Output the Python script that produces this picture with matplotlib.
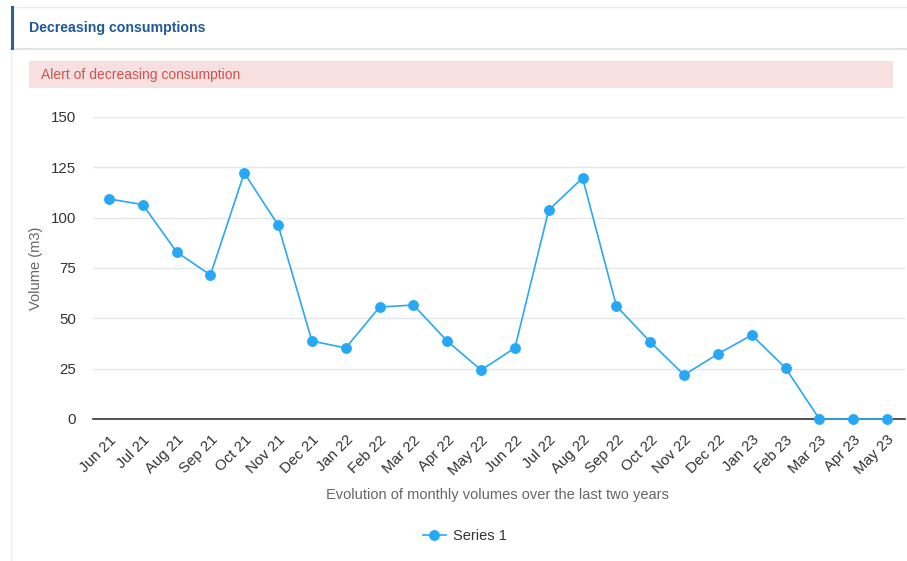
import matplotlib.pyplot as plt
from matplotlib.patches import Rectangle
from matplotlib.lines import Line2D

plt.rcParams['font.family'] = ['Liberation Sans', 'DejaVu Sans']

# Monthly volumes (m3)
months = ['Jun 21', 'Jul 21', 'Aug 21', 'Sep 21', 'Oct 21', 'Nov 21', 'Dec 21', 'Jan 22',
          'Feb 22', 'Mar 22', 'Apr 22', 'May 22', 'Jun 22', 'Jul 22', 'Aug 22', 'Sep 22',
          'Oct 22', 'Nov 22', 'Dec 22', 'Jan 23', 'Feb 23', 'Mar 23', 'Apr 23', 'May 23']
volumes = [109.3, 106.5, 83, 71.5, 122.2, 96.4, 38.7, 35.3,
           55.6, 56.6, 38.7, 24.3, 35.3, 103.8, 119.7, 56.1,
           38.3, 21.9, 32.3, 41.7, 25.3, 0, 0, 0]
y_ticks = [0, 25, 50, 75, 100, 125, 150]

W, H = 907, 561
fig = plt.figure(figsize=(W / 100, H / 100), dpi=100)

# panel frame / header decorations (figure pixel coords -> fraction)
def px(x, y):
    return x / W, 1 - y / H

fig.add_artist(Line2D([11 / W, 1], [1 - 7 / H] * 2, color='#ededed', lw=1))
fig.add_artist(Line2D([11 / W, 1], [1 - 49 / H] * 2, color='#e3e3e3', lw=1.5))
fig.add_artist(Line2D([11 / W] * 2, [1 - 49 / H, 0], color='#ededed', lw=1))
fig.add_artist(Line2D([11.5 / W] * 2, [1 - 7 / H, 1 - 48 / H], color='#2f5f95', lw=2.2))
fig.text(*px(29, 28), 'Decreasing consumptions', color='#1f5a96', fontsize=10.2,
         fontweight='bold', va='center', ha='left')

# alert banner
fig.add_artist(Rectangle(px(29, 88), (893 - 29) / W, 27 / H, color='#f8dfe0', lw=0))
fig.text(*px(41, 74.5), 'Alert of decreasing consumption', color='#d0534f', fontsize=10,
         va='center', ha='left')

left, right = 93 / W, 905 / W
bottom, top = 1 - 419 / H, 1 - 117 / H
ax = fig.add_axes([left, bottom, right - left, top - bottom])

x = list(range(len(months)))
ax.plot(x, volumes, color='#2aa9f2', lw=1.2, marker='o', markersize=6.8,
        markerfacecolor='#27a8f7', markeredgecolor='#27a8f7', label='Series 1',
        zorder=3, clip_on=False)

ax.set_ylim(0, 150)
ax.set_xlim(-0.47, len(months) - 0.47)
ax.set_yticks(y_ticks)
ax.set_xticks(x)
ax.set_xticklabels(months, rotation=45, ha='right', rotation_mode='anchor')
ax.tick_params(axis='x', length=0, pad=10, labelsize=10.8, colors='#333333')
ax.tick_params(axis='y', length=0, pad=12, labelsize=10.8, colors='#333333')
ax.grid(axis='y', color='#e6e6e6', lw=1)
ax.set_axisbelow(True)
for s in ['top', 'right', 'left']:
    ax.spines[s].set_visible(False)
ax.spines['bottom'].set_color('#333333')
ax.spines['bottom'].set_linewidth(1.2)

ax.set_ylabel('Volume (m3)', color='#666666', fontsize=10.5)
ax.yaxis.set_label_coords(-0.061, 0.5)
ax.set_xlabel('Evolution of monthly volumes over the last two years', color='#666666',
              fontsize=10.5)
ax.xaxis.set_label_coords((497 / W - left) / (right - left), -(488 - 419) / (419 - 117))

leg = fig.legend(loc='center', bbox_to_anchor=(465 / W, 1 - 536 / H), frameon=False,
                 fontsize=10.5, handlelength=1.6, handletextpad=0.5)
for t in leg.get_texts():
    t.set_color('#333333')

fig.savefig('out.png', dpi=100)
